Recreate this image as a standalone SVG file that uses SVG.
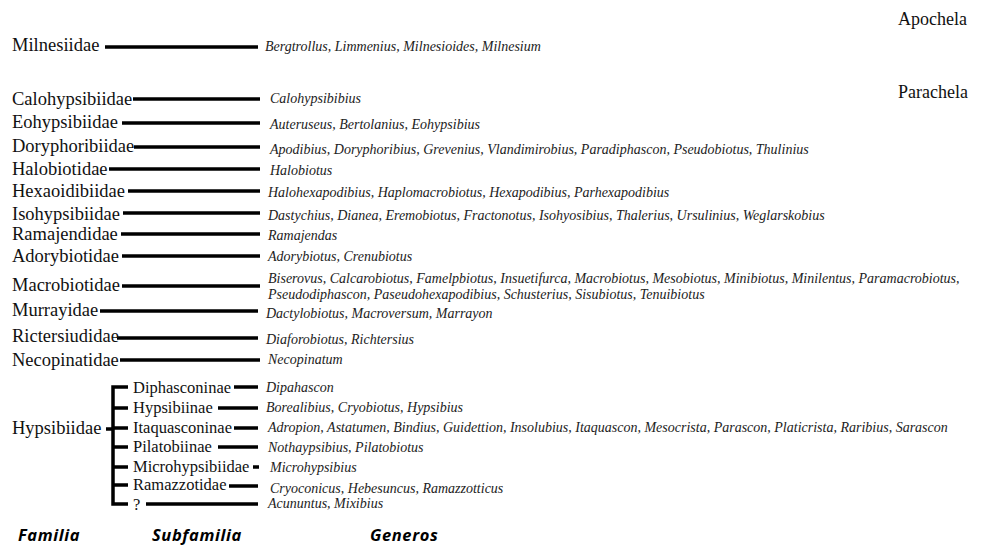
<svg xmlns="http://www.w3.org/2000/svg" width="982" height="548" viewBox="0 0 982 548">
<style>
.fam{font-family:"Liberation Serif","Times New Roman",serif;font-size:18.5px;fill:#111}
.sub{font-family:"Liberation Serif","Times New Roman",serif;font-size:16.5px;fill:#111}
.gen{font-family:"Liberation Serif","Times New Roman",serif;font-style:italic;font-size:14px;fill:#222}
.ord{font-family:"Liberation Serif","Times New Roman",serif;font-size:18px;fill:#111}
.hdr{font-family:"Open Sans","Liberation Sans",Arial,sans-serif;font-style:italic;font-weight:bold;font-size:16.5px;letter-spacing:0.6px;fill:#000}
.ln{stroke:#000;stroke-width:3.5;fill:none}
</style>
<rect width="982" height="548" fill="#fff"/>
<g id="orders">
<text class="ord" x="898" y="25">Apochela</text>
<text class="ord" x="898" y="98">Parachela</text>
</g>
<g id="connectors">
<line class="ln" x1="105" y1="47" x2="258" y2="47"/>
<line class="ln" x1="133" y1="99" x2="260" y2="99"/>
<line class="ln" x1="122" y1="123" x2="260" y2="123"/>
<line class="ln" x1="134" y1="147" x2="260" y2="147"/>
<line class="ln" x1="109" y1="169" x2="260" y2="169"/>
<line class="ln" x1="128" y1="191" x2="260" y2="191"/>
<line class="ln" x1="123" y1="213" x2="260" y2="213"/>
<line class="ln" x1="121" y1="234" x2="260" y2="234"/>
<line class="ln" x1="122" y1="256" x2="260" y2="256"/>
<line class="ln" x1="122" y1="286" x2="260" y2="286"/>
<line class="ln" x1="100" y1="311" x2="258" y2="311"/>
<line class="ln" x1="117" y1="338" x2="258" y2="338"/>
<line class="ln" x1="120" y1="360" x2="260" y2="360"/>
<path class="ln" d="M106 429H113M128 387H113V504H128M113 408H128M113 428H128M113 447H128M113 467H128M113 485H128"/>
<line class="ln" x1="234" y1="387" x2="258" y2="387"/>
<line class="ln" x1="218" y1="408" x2="258" y2="408"/>
<line class="ln" x1="234" y1="428" x2="258" y2="428"/>
<line class="ln" x1="218" y1="447" x2="258" y2="447"/>
<line class="ln" x1="253" y1="467" x2="259" y2="467"/>
<line class="ln" x1="229" y1="486" x2="258" y2="486"/>
<line class="ln" x1="146" y1="504" x2="258" y2="504"/>
</g>
<g id="n-milnesiidae"><text class="fam" x="12" y="51">Milnesiidae</text><text class="gen" x="265" y="51">Bergtrollus, Limmenius, Milnesioides, Milnesium</text></g>
<g id="n-calohypsibiidae"><text class="fam" x="12" y="105">Calohypsibiidae</text><text class="gen" x="270" y="103">Calohypsibibius</text></g>
<g id="n-eohypsibiidae"><text class="fam" x="12" y="128">Eohypsibiidae</text><text class="gen" x="270" y="129">Auteruseus, Bertolanius, Eohypsibius</text></g>
<g id="n-doryphoribiidae"><text class="fam" x="12" y="152">Doryphoribiidae</text><text class="gen" x="270" y="154">Apodibius, Doryphoribius, Grevenius, Vlandimirobius, Paradiphascon, Pseudobiotus, Thulinius</text></g>
<g id="n-halobiotidae"><text class="fam" x="12" y="175">Halobiotidae</text><text class="gen" x="270" y="175">Halobiotus</text></g>
<g id="n-hexaoidibiidae"><text class="fam" x="12" y="197">Hexaoidibiidae</text><text class="gen" x="268" y="197">Halohexapodibius, Haplomacrobiotus, Hexapodibius, Parhexapodibius</text></g>
<g id="n-isohypsibiidae"><text class="fam" x="12" y="220">Isohypsibiidae</text><text class="gen" x="268" y="220">Dastychius, Dianea, Eremobiotus, Fractonotus, Isohyosibius, Thalerius, Ursulinius, Weglarskobius</text></g>
<g id="n-ramajendidae"><text class="fam" x="12" y="240">Ramajendidae</text><text class="gen" x="268" y="240">Ramajendas</text></g>
<g id="n-adorybiotidae"><text class="fam" x="12" y="262">Adorybiotidae</text><text class="gen" x="268" y="261">Adorybiotus, Crenubiotus</text></g>
<g id="n-macrobiotidae"><text class="fam" x="12" y="291">Macrobiotidae</text><text class="gen" x="268" y="283">Biserovus, Calcarobiotus, Famelpbiotus, Insuetifurca, Macrobiotus, Mesobiotus, Minibiotus, Minilentus, Paramacrobiotus,</text><text class="gen" x="268" y="299">Pseudodiphascon, Paseudohexapodibius, Schusterius, Sisubiotus, Tenuibiotus</text></g>
<g id="n-murrayidae"><text class="fam" x="12" y="316">Murrayidae</text><text class="gen" x="266" y="318">Dactylobiotus, Macroversum, Marrayon</text></g>
<g id="n-rictersiudidae"><text class="fam" x="12" y="342">Rictersiudidae</text><text class="gen" x="266" y="344">Diaforobiotus, Richtersius</text></g>
<g id="n-necopinatidae"><text class="fam" x="12" y="366">Necopinatidae</text><text class="gen" x="268" y="364">Necopinatum</text></g>
<g id="n-hypsibiidae"><text class="fam" x="12" y="434">Hypsibiidae</text></g>
<g id="n-diphasconinae"><text class="sub" x="133" y="393">Diphasconinae</text><text class="gen" x="266" y="392">Dipahascon</text></g>
<g id="n-hypsibiinae"><text class="sub" x="133" y="413">Hypsibiinae</text><text class="gen" x="266" y="412">Borealibius, Cryobiotus, Hypsibius</text></g>
<g id="n-itaquasconinae"><text class="sub" x="133" y="433">Itaquasconinae</text><text class="gen" x="268" y="432">Adropion, Astatumen, Bindius, Guidettion, Insolubius, Itaquascon, Mesocrista, Parascon, Platicrista, Raribius, Sarascon</text></g>
<g id="n-pilatobiinae"><text class="sub" x="133" y="452">Pilatobiinae</text><text class="gen" x="268" y="452">Nothaypsibius, Pilatobiotus</text></g>
<g id="n-microhypsibiidae"><text class="sub" x="133" y="472">Microhypsibiidae</text><text class="gen" x="270" y="472">Microhypsibius</text></g>
<g id="n-ramazzotidae"><text class="sub" x="133" y="490">Ramazzotidae</text><text class="gen" x="270" y="493">Cryoconicus, Hebesuncus, Ramazzotticus</text></g>
<g id="n-unknown"><text class="sub" x="133" y="510">?</text><text class="gen" x="268" y="508">Acununtus, Mixibius</text></g>
<g id="headers">
<text class="hdr" x="18" y="541">Familia</text>
<text class="hdr" x="152" y="541">Subfamilia</text>
<text class="hdr" x="370" y="541">Generos</text>
</g>
</svg>
